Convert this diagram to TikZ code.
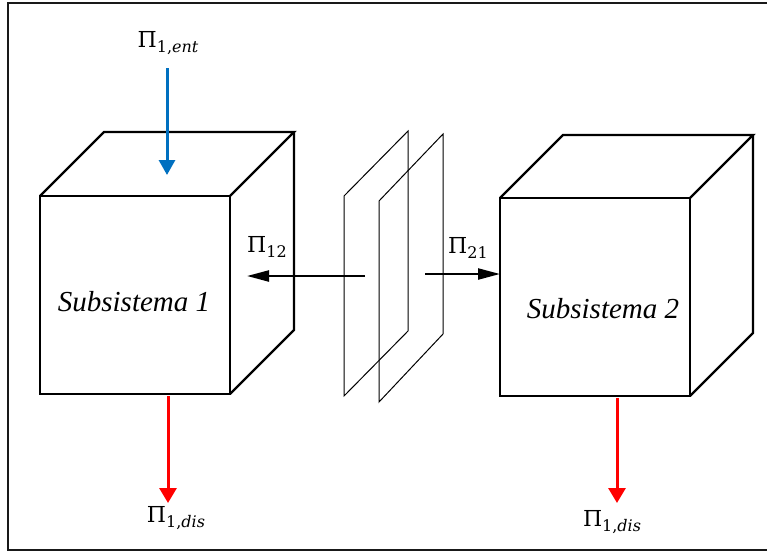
\documentclass[tikz,border=0pt]{standalone}
\usepackage{fontspec}
\setmainfont{Liberation Serif}
\newfontfamily\pifont{DejaVu Serif}
\usetikzlibrary{arrows.meta}
\definecolor{flowblue}{RGB}{0,112,192}
\definecolor{flowred}{RGB}{255,0,0}
\newcommand\pisub[1]{\pifont\fontsize{22}{26}\selectfont Π\raisebox{-5pt}{\fontsize{16}{18}\selectfont #1}}
\tikzset{
  cubeline/.style={line width=2.3pt, line join=miter},
  planeline/.style={line width=1pt},
  frameline/.style={line width=2pt, draw=black!90},
  sublabel/.style={font=\fontsize{29}{34}\selectfont\itshape, inner sep=0pt},
  pilabel/.style={inner sep=0pt},
  inflow/.style={draw=flowblue, line width=3pt, -{Triangle[length=15pt,width=16pt]}},
  outflow/.style={draw=flowred, line width=3pt, -{Triangle[length=15pt,width=17pt]}},
  exflow/.style={draw=black, line width=2.3pt, -{Triangle[length=22pt,width=11pt]}}
}
\begin{document}
\begin{tikzpicture}[x=1pt,y=-1pt]
\useasboundingbox (0,0) rectangle (767,552);
% frame
\draw[frameline] (772,2.5) -- (8,2.5) -- (8,549.5) -- (772,549.5);
% cube 1
\coordinate (c1a) at (40,196);
\coordinate (c1b) at (230,196);
\coordinate (c1c) at (230,394);
\coordinate (c1d) at (40,394);
\coordinate (c1e) at (104,132);
\coordinate (c1f) at (294,132);
\coordinate (c1g) at (294,330);
\draw[cubeline] (c1a) -- (c1b) -- (c1c) -- (c1d) -- cycle;
\draw[cubeline] (c1a) -- (c1e) -- (c1f) -- (c1b);
\draw[cubeline] (c1f) -- (c1g) -- (c1c);
% cube 2
\coordinate (c2a) at (500,198);
\coordinate (c2b) at (690,198);
\coordinate (c2c) at (690,396);
\coordinate (c2d) at (500,396);
\coordinate (c2e) at (563,135);
\coordinate (c2f) at (753,135);
\coordinate (c2g) at (753,333);
\draw[cubeline] (c2a) -- (c2b) -- (c2c) -- (c2d) -- cycle;
\draw[cubeline] (c2a) -- (c2e) -- (c2f) -- (c2b);
\draw[cubeline] (c2f) -- (c2g) -- (c2c);
% planes
\coordinate (p1a) at (344,196);
\coordinate (p1b) at (408,131);
\coordinate (p1c) at (408,331);
\coordinate (p1d) at (344,396);
\coordinate (p2a) at (379,201);
\coordinate (p2b) at (443,134);
\coordinate (p2c) at (443,334);
\coordinate (p2d) at (379,402);
\draw[planeline] (p1a) -- (p1b) -- (p1c) -- (p1d) -- cycle;
\draw[planeline] (p2a) -- (p2b) -- (p2c) -- (p2d) -- cycle;
% texts
\node[sublabel] (s1) at (134,302) {Subsistema 1};
\node[sublabel] (s2) at (603,309) {Subsistema 2};
\node[pilabel] (ent) at (168,43) {\pisub{1,\textit{ent}}};
\node[pilabel] (p12) at (267,247) {\pisub{12}};
\node[pilabel] (p21) at (468,248) {\pisub{21}};
\node[pilabel] (dis1) at (176,518) {\pisub{1,\textit{dis}}};
\node[pilabel] (dis2) at (612,522) {\pisub{1,\textit{dis}}};
% arrows
\coordinate (entS) at (167,68);
\coordinate (entE) at (167,175);
\coordinate (d1S) at (168,396);
\coordinate (d1E) at (168,503);
\coordinate (d2S) at (617,398);
\coordinate (d2E) at (617,503);
\coordinate (x12S) at (365,276);
\coordinate (x12E) at (247,276);
\coordinate (x21S) at (425,274);
\coordinate (x21E) at (500,274);
\draw[inflow] (entS) -- (entE);
\draw[outflow] (d1S) -- (d1E);
\draw[outflow] (d2S) -- (d2E);
\draw[exflow] (x12S) -- (x12E);
\draw[exflow] (x21S) -- (x21E);
\end{tikzpicture}
\end{document}
